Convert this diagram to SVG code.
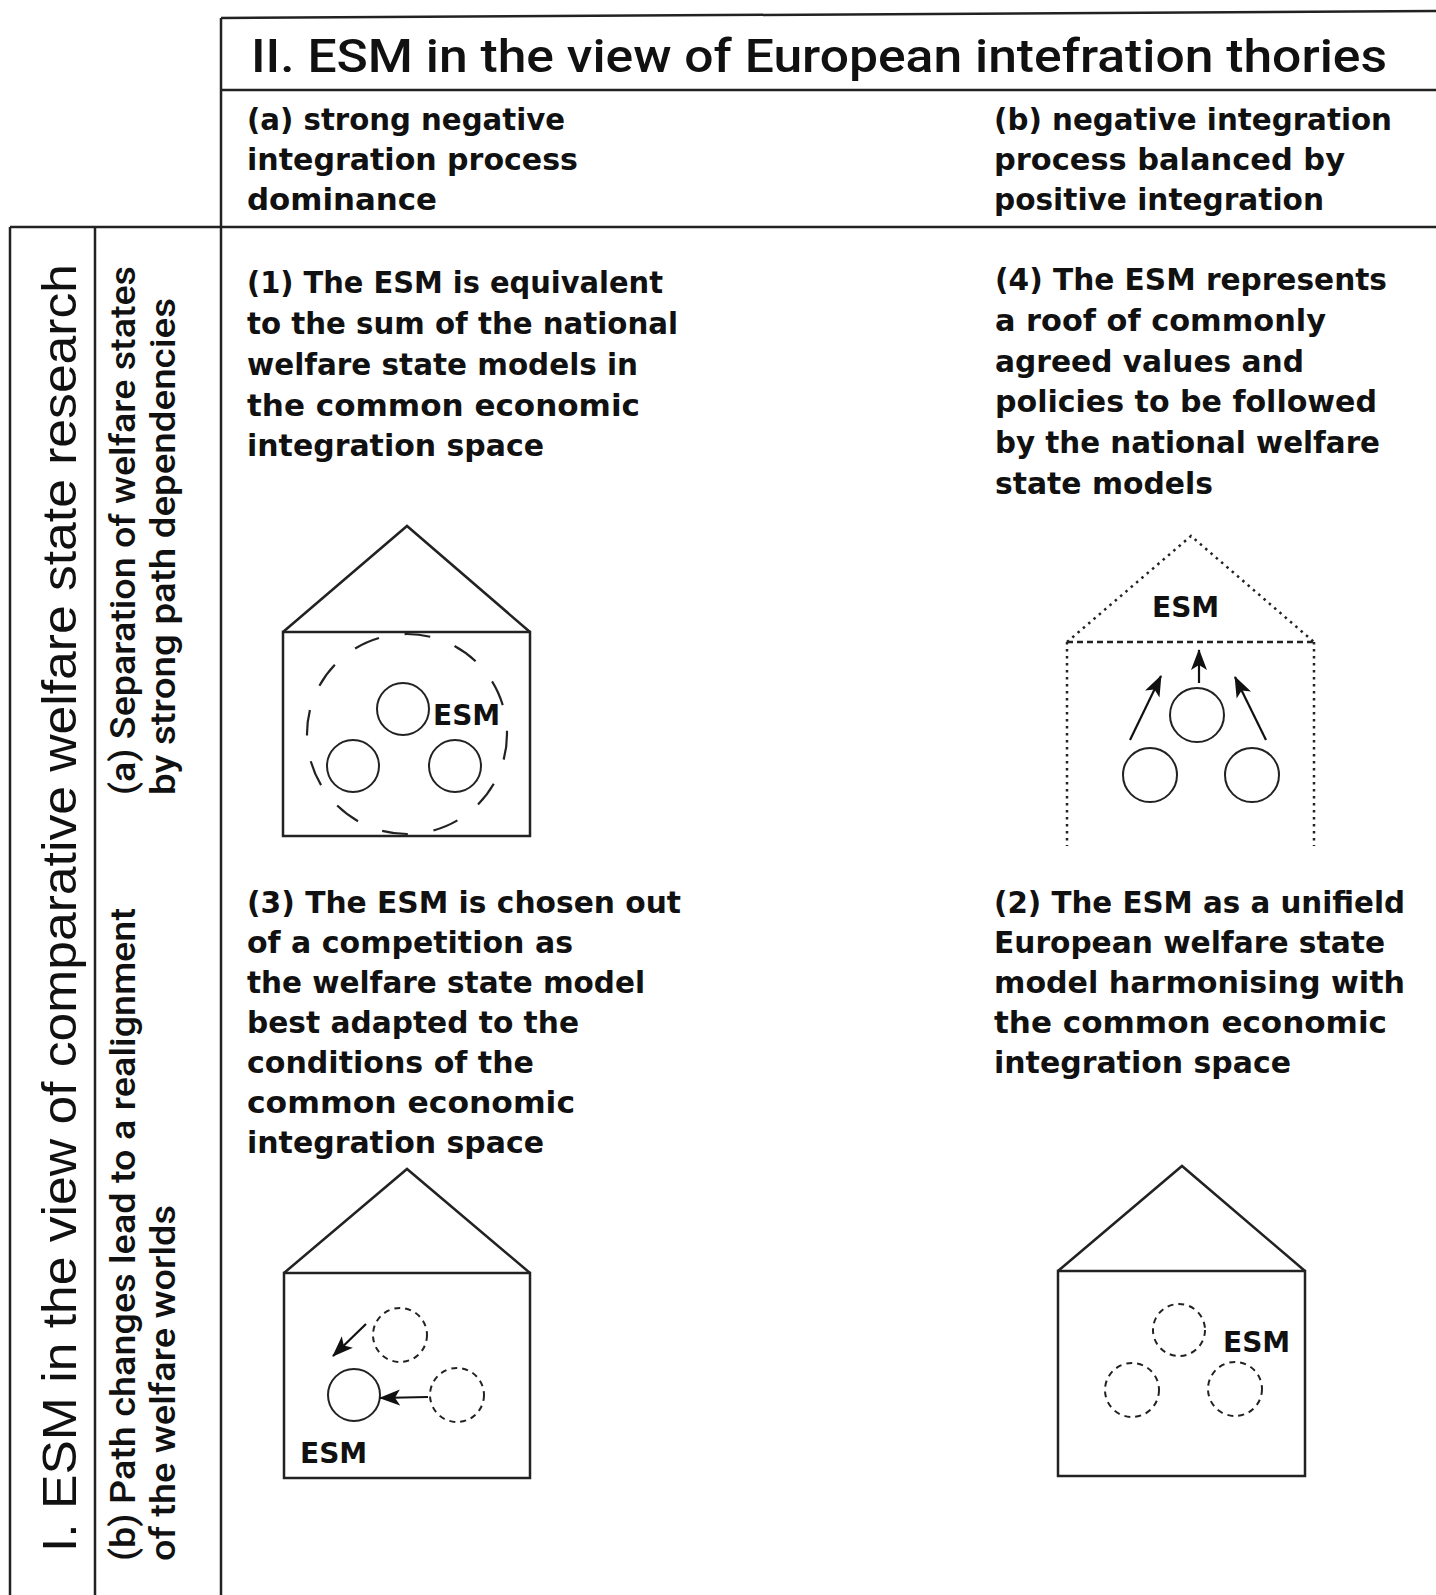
<svg xmlns="http://www.w3.org/2000/svg" width="1436" height="1595" viewBox="0 0 1436 1595">
<style>
.grid{stroke:#222;stroke-width:2.5;fill:none}
.body{font-family:"DejaVu Sans",sans-serif;font-weight:bold;font-size:29.5px;fill:#111}
.title{font-family:Roboto,"Liberation Sans",sans-serif;font-weight:500;font-size:46px;fill:#111}
.side{font-family:"Liberation Sans",Arial,sans-serif;font-size:49px;fill:#111}
.sub{font-family:Roboto,"Liberation Sans",sans-serif;font-weight:500;font-size:35px;fill:#111}
.esm{font-family:"DejaVu Sans",sans-serif;font-weight:bold;font-size:28px;fill:#111}
.house{stroke:#222;stroke-width:2.5;fill:none}
.c{stroke:#222;stroke-width:2;fill:none}
.cd{stroke:#222;stroke-width:2;fill:none;stroke-dasharray:6 5}
.big{stroke:#222;stroke-width:2.2;fill:none;stroke-dasharray:26 26}
.dot{stroke:#222;stroke-width:2.5;fill:none;stroke-dasharray:2.5 4.5}
.dash{stroke:#222;stroke-width:2.5;fill:none;stroke-dasharray:6 4}
.arr{stroke:#111;stroke-width:2.2;fill:none;marker-end:url(#ah)}
</style>
<defs>
<marker id="ah" markerUnits="userSpaceOnUse" markerWidth="22" markerHeight="18" refX="20" refY="9" orient="auto">
<path d="M0,1 L21,9 L0,17 L5,9 Z" fill="#111"/>
</marker>
</defs>
<rect width="1436" height="1595" fill="#fff"/>

<g id="grid">
<line class="grid" x1="221" y1="18" x2="1436" y2="11"/>
<line class="grid" x1="221" y1="18" x2="221" y2="1595"/>
<line class="grid" x1="221" y1="90" x2="1436" y2="90"/>
<line class="grid" x1="10" y1="227" x2="1436" y2="227"/>
<line class="grid" x1="10" y1="227" x2="10" y2="1595"/>
<line class="grid" x1="95" y1="227" x2="95" y2="1595"/>
</g>

<g id="header-II">
<text class="title" x="251" y="72" textLength="1136" lengthAdjust="spacingAndGlyphs">II. ESM in the view of European intefration thories</text>
</g>

<g id="header-a">
<text class="body" x="247" y="130" textLength="318" lengthAdjust="spacingAndGlyphs">(a) strong negative</text>
<text class="body" x="247" y="170" textLength="331" lengthAdjust="spacingAndGlyphs">integration process</text>
<text class="body" x="247" y="210" textLength="190" lengthAdjust="spacingAndGlyphs">dominance</text>
</g>

<g id="header-b">
<text class="body" x="994" y="130" textLength="398" lengthAdjust="spacingAndGlyphs">(b) negative integration</text>
<text class="body" x="994" y="170" textLength="351" lengthAdjust="spacingAndGlyphs">process balanced by</text>
<text class="body" x="994" y="210" textLength="330" lengthAdjust="spacingAndGlyphs">positive integration</text>
</g>

<g id="header-I">
<text class="side" transform="translate(76,1552) rotate(-90)" textLength="1288" lengthAdjust="spacingAndGlyphs">I. ESM in the view of comparative welfare state research</text>
</g>

<g id="row-a">
<text class="sub" transform="translate(135,795) rotate(-90)" textLength="529" lengthAdjust="spacingAndGlyphs">(a) Separation of welfare states</text>
<text class="sub" transform="translate(175,795) rotate(-90)" textLength="497" lengthAdjust="spacingAndGlyphs">by strong path dependencies</text>
</g>

<g id="row-b">
<text class="sub" transform="translate(135,1561) rotate(-90)" textLength="653" lengthAdjust="spacingAndGlyphs">(b) Path changes lead to a realignment</text>
<text class="sub" transform="translate(175,1561) rotate(-90)" textLength="356" lengthAdjust="spacingAndGlyphs">of the welfare worlds</text>
</g>

<g id="cell-1">
<text class="body" x="247" y="293" textLength="416" lengthAdjust="spacingAndGlyphs">(1) The ESM is equivalent</text>
<text class="body" x="247" y="334" textLength="431" lengthAdjust="spacingAndGlyphs">to the sum of the national</text>
<text class="body" x="247" y="375" textLength="391" lengthAdjust="spacingAndGlyphs">welfare state models in</text>
<text class="body" x="247" y="416" textLength="393" lengthAdjust="spacingAndGlyphs">the common economic</text>
<text class="body" x="247" y="456" textLength="297" lengthAdjust="spacingAndGlyphs">integration space</text>
<polyline class="house" points="283,632 407,526 530,632"/>
<rect class="house" x="283" y="632" width="247" height="204"/>
<circle class="big" cx="407" cy="734" r="100"/>
<circle class="c" cx="403" cy="709" r="26"/>
<circle class="c" cx="353" cy="766" r="26"/>
<circle class="c" cx="455" cy="766" r="26"/>
<text class="esm" x="433" y="725">ESM</text>
</g>

<g id="cell-4">
<text class="body" x="995" y="290" textLength="392" lengthAdjust="spacingAndGlyphs">(4) The ESM represents</text>
<text class="body" x="995" y="331" textLength="331" lengthAdjust="spacingAndGlyphs">a roof of commonly</text>
<text class="body" x="995" y="372" textLength="309" lengthAdjust="spacingAndGlyphs">agreed values and</text>
<text class="body" x="995" y="412" textLength="382" lengthAdjust="spacingAndGlyphs">policies to be followed</text>
<text class="body" x="995" y="453" textLength="385" lengthAdjust="spacingAndGlyphs">by the national welfare</text>
<text class="body" x="995" y="494" textLength="218" lengthAdjust="spacingAndGlyphs">state models</text>
<polyline class="dot" points="1067,642 1191,536 1314,642"/>
<line class="dash" x1="1067" y1="642" x2="1314" y2="642"/>
<line class="dot" x1="1067" y1="642" x2="1067" y2="846"/>
<line class="dot" x1="1314" y1="642" x2="1314" y2="846"/>
<text class="esm" x="1152" y="617">ESM</text>
<circle class="c" cx="1197" cy="715" r="27"/>
<circle class="c" cx="1150" cy="775" r="27"/>
<circle class="c" cx="1252" cy="775" r="27"/>
</g>

<g id="cell-3">
<text class="body" x="247" y="913" textLength="434" lengthAdjust="spacingAndGlyphs">(3) The ESM is chosen out</text>
<text class="body" x="247" y="953" textLength="326" lengthAdjust="spacingAndGlyphs">of a competition as</text>
<text class="body" x="247" y="993" textLength="398" lengthAdjust="spacingAndGlyphs">the welfare state model</text>
<text class="body" x="247" y="1033" textLength="332" lengthAdjust="spacingAndGlyphs">best adapted to the</text>
<text class="body" x="247" y="1073" textLength="287" lengthAdjust="spacingAndGlyphs">conditions of the</text>
<text class="body" x="247" y="1113" textLength="328" lengthAdjust="spacingAndGlyphs">common economic</text>
<text class="body" x="247" y="1153" textLength="297" lengthAdjust="spacingAndGlyphs">integration space</text>
<polyline class="house" points="284,1273 407,1169 530,1273"/>
<rect class="house" x="284" y="1273" width="246" height="205"/>
<circle class="cd" cx="400" cy="1335" r="27"/>
<circle class="cd" cx="457" cy="1395" r="27"/>
<circle class="c" cx="354" cy="1395" r="26"/>
<text class="esm" x="300" y="1463">ESM</text>
</g>

<g id="cell-2">
<text class="body" x="994" y="913" textLength="411" lengthAdjust="spacingAndGlyphs">(2) The ESM as a unifield</text>
<text class="body" x="994" y="953" textLength="391" lengthAdjust="spacingAndGlyphs">European welfare state</text>
<text class="body" x="994" y="993" textLength="411" lengthAdjust="spacingAndGlyphs">model harmonising with</text>
<text class="body" x="994" y="1033" textLength="393" lengthAdjust="spacingAndGlyphs">the common economic</text>
<text class="body" x="994" y="1073" textLength="297" lengthAdjust="spacingAndGlyphs">integration space</text>
<polyline class="house" points="1058,1271 1182,1166 1305,1271"/>
<rect class="house" x="1058" y="1271" width="247" height="205"/>
<circle class="cd" cx="1179" cy="1330" r="26"/>
<circle class="cd" cx="1132" cy="1390" r="27"/>
<circle class="cd" cx="1235" cy="1389" r="27"/>
<text class="esm" x="1223" y="1352">ESM</text>
</g>

<g id="connectors">
<line class="arr" x1="1199" y1="683" x2="1199" y2="650"/>
<line class="arr" x1="1130" y1="740" x2="1161" y2="676"/>
<line class="arr" x1="1266" y1="740" x2="1235" y2="677"/>
<line class="arr" x1="366" y1="1324" x2="333" y2="1356"/>
<line class="arr" x1="428" y1="1397" x2="380" y2="1398"/>
</g>
</svg>
